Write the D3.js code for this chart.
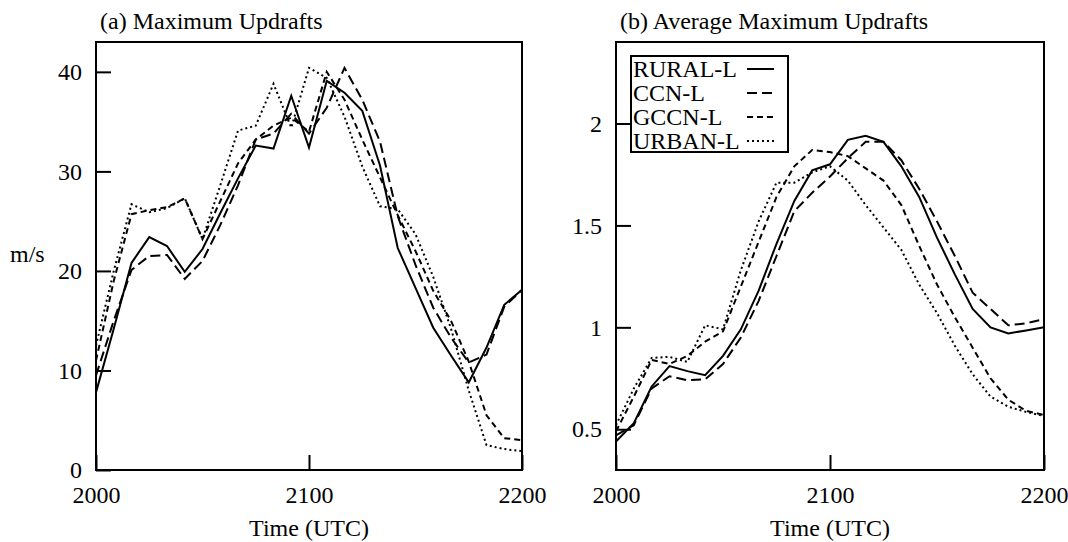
<!DOCTYPE html>
<html>
<head>
<meta charset="utf-8">
<script src="https://cdn.jsdelivr.net/npm/d3@7"></script>
<style>
  html, body { margin: 0; padding: 0; background: #fff; }
  svg { display: block; }
  text { font-family: "Liberation Serif", "Times New Roman", Times, serif; fill: #000; }
</style>
</head>
<body>
<svg id="chart" width="1068" height="542"></svg>
<script>
// ---- data (minutes after 2000 UTC) ----
const minutes = [0, 5, 10, 15, 20, 25, 30, 35, 40, 45, 50, 55, 60, 65, 70, 75, 80, 85, 90, 95, 100, 105, 110, 115, 120];
const xTickValues = [0, 60, 120];
const xTickLabels = ["2000", "2100", "2200"];
const seriesNames = ["RURAL-L", "CCN-L", "GCCN-L", "URBAN-L"];

// (a) Maximum updrafts, m/s
const ruralA = [7.8, 14.2, 20.8, 23.4, 22.5, 19.9, 22.2, 25.8, 29.3, 32.6, 32.3, 37.6, 32.4, 39.1, 37.9, 36.1, 30.6, 22.3, 18.3, 14.3, 11.5, 8.8, 12.3, 16.6, 18.1];
const ccnA   = [9.5, 15.0, 20.1, 21.5, 21.6, 19.2, 21.0, 24.6, 28.6, 33.2, 33.8, 35.8, 33.8, 36.4, 40.4, 37.2, 33.0, 25.5, 20.6, 16.3, 13.3, 10.8, 11.6, 16.4, 18.1];
const gccnA  = [11.0, 19.0, 25.7, 26.1, 26.4, 27.3, 23.2, 27.0, 30.8, 33.2, 34.6, 35.4, 34.0, 40.0, 37.2, 33.2, 29.4, 25.6, 22.0, 18.0, 15.0, 10.9, 5.5, 3.2, 3.0];
const urbanA = [12.5, 20.0, 26.7, 25.9, 26.3, 27.3, 23.2, 28.6, 34.1, 34.6, 38.8, 34.4, 40.4, 39.4, 35.5, 30.5, 26.5, 26.2, 23.7, 19.4, 14.2, 8.0, 2.5, 2.1, 1.9];
const yTicksA = [0, 10, 20, 30, 40];
const yDomainA = [0, 43];

// (b) Average maximum updrafts, m/s
const ruralB = [0.44, 0.53, 0.71, 0.81, 0.785, 0.765, 0.86, 0.99, 1.18, 1.41, 1.62, 1.77, 1.80, 1.92, 1.94, 1.91, 1.79, 1.64, 1.44, 1.26, 1.09, 1.00, 0.97, 0.985, 1.00];
const ccnB   = [0.47, 0.52, 0.70, 0.76, 0.74, 0.745, 0.82, 0.95, 1.13, 1.35, 1.57, 1.66, 1.74, 1.83, 1.91, 1.91, 1.82, 1.68, 1.52, 1.35, 1.17, 1.09, 1.01, 1.02, 1.04];
const gccnB  = [0.49, 0.66, 0.84, 0.82, 0.86, 0.93, 0.98, 1.20, 1.42, 1.64, 1.79, 1.87, 1.86, 1.84, 1.78, 1.72, 1.60, 1.40, 1.21, 1.05, 0.90, 0.75, 0.645, 0.59, 0.57];
const urbanB = [0.52, 0.70, 0.85, 0.855, 0.83, 1.01, 0.99, 1.28, 1.52, 1.71, 1.71, 1.76, 1.79, 1.72, 1.60, 1.49, 1.38, 1.21, 1.07, 0.91, 0.77, 0.66, 0.61, 0.585, 0.565];
const yTicksB = [0.5, 1, 1.5, 2];
const yDomainB = [0.3, 2.4];

// ---- styles ----
const dashes = { "RURAL-L": null, "CCN-L": "10,5", "GCCN-L": "6,4", "URBAN-L": "2,3" };

const svg = d3.select("#chart");
const FS = 24;

function panel(opts) {
  const { left, right, top, bottom, yDomain, yTicks, series, title, showLegend, ylabel } = opts;
  const x = d3.scaleLinear().domain([0, 120]).range([left, right]);
  const y = d3.scaleLinear().domain(yDomain).range([bottom, top]);
  const g = svg.append("g");

  // lines
  const line = d3.line().x((d, i) => x(minutes[i])).y(d => y(d));
  series.forEach(s => {
    g.append("path")
      .attr("d", line(s.values))
      .attr("fill", "none")
      .attr("stroke", "#000")
      .attr("stroke-width", 2)
      .attr("stroke-linejoin", "miter")
      .attr("stroke-dasharray", dashes[s.name]);
  });

  // y axis (inward ticks)
  const ya = g.append("g").attr("transform", `translate(${left},0)`)
    .call(d3.axisLeft(y).tickValues(yTicks).tickSize(-15).tickPadding(14).tickFormat(d3.format("")));
  ya.select(".domain").remove();
  ya.selectAll("line").attr("stroke", "#000").attr("stroke-width", 2);
  ya.selectAll("text").attr("font-size", FS).attr("font-family", "Liberation Serif, Times New Roman, serif");

  // x axis (inward ticks)
  const xa = g.append("g").attr("transform", `translate(0,${bottom})`)
    .call(d3.axisBottom(x).tickValues(xTickValues).tickSize(-15).tickPadding(16)
      .tickFormat((d, i) => xTickLabels[i]));
  xa.select(".domain").remove();
  xa.selectAll("line").attr("stroke", "#000").attr("stroke-width", 2);
  xa.selectAll("text").attr("font-size", FS).attr("font-family", "Liberation Serif, Times New Roman, serif");

  // frame
  g.append("rect").attr("x", left).attr("y", top).attr("width", right - left).attr("height", bottom - top)
    .attr("fill", "none").attr("stroke", "#000").attr("stroke-width", 2);

  // title
  g.append("text").attr("x", left + 4).attr("y", 28.5).attr("font-size", FS).text(title);
  // x label
  g.append("text").attr("x", (left + right) / 2).attr("y", 536).attr("text-anchor", "middle")
    .attr("font-size", FS).text("Time (UTC)");
  if (ylabel) {
    g.append("text").attr("x", 10).attr("y", 262).attr("font-size", FS).text(ylabel);
  }

  if (showLegend) {
    const lx = 631, ly = 56, lw = 157, rowH = 24;
    const lg = g.append("g");
    lg.append("rect").attr("x", lx).attr("y", ly).attr("width", lw).attr("height", rowH * series.length + 0)
      .attr("fill", "#fff").attr("stroke", "#000").attr("stroke-width", 2);
    series.forEach((s, i) => {
      lg.append("text").attr("x", lx + 2).attr("y", ly + 21 + i * rowH).attr("font-size", FS).text(s.name);
      lg.append("line").attr("x1", 747).attr("x2", 774)
        .attr("y1", ly + 13 + i * rowH).attr("y2", ly + 13 + i * rowH)
        .attr("stroke", "#000").attr("stroke-width", 2).attr("stroke-dasharray", dashes[s.name]);
    });
  }
}

panel({
  left: 96, right: 522, top: 42, bottom: 470,
  yDomain: yDomainA, yTicks: yTicksA,
  series: [
    { name: seriesNames[0], values: ruralA },
    { name: seriesNames[1], values: ccnA },
    { name: seriesNames[2], values: gccnA },
    { name: seriesNames[3], values: urbanA }
  ],
  title: "(a) Maximum Updrafts", showLegend: false, ylabel: "m/s"
});

panel({
  left: 616, right: 1044, top: 42, bottom: 470,
  yDomain: yDomainB, yTicks: yTicksB,
  series: [
    { name: seriesNames[0], values: ruralB },
    { name: seriesNames[1], values: ccnB },
    { name: seriesNames[2], values: gccnB },
    { name: seriesNames[3], values: urbanB }
  ],
  title: "(b) Average Maximum Updrafts", showLegend: true, ylabel: null
});
</script>
</body>
</html>
